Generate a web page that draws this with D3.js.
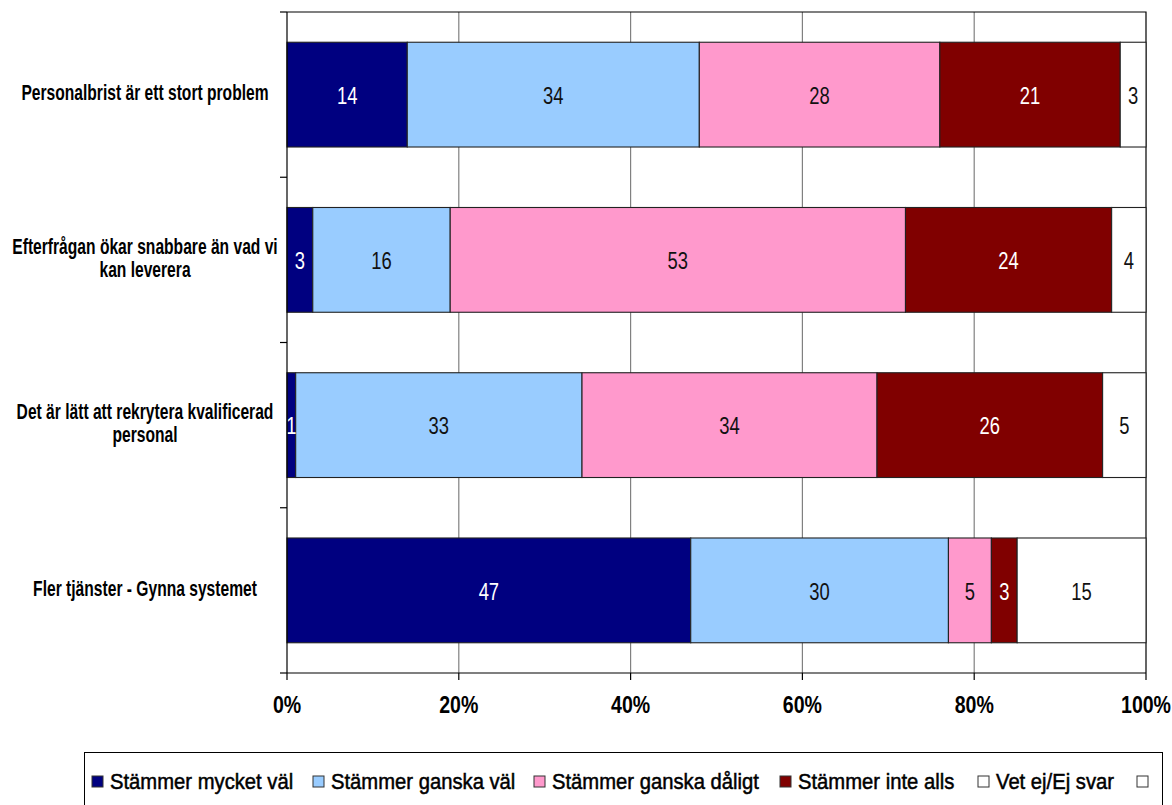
<!DOCTYPE html>
<html>
<head>
<meta charset="utf-8">
<script src="https://cdn.jsdelivr.net/npm/d3@7"></script>
<style>
  html, body { margin: 0; padding: 0; background: #fff; }
  svg { display: block; }
  text { font-family: "Liberation Sans", Arial, sans-serif; }
</style>
</head>
<body>
<svg id="chart" width="1172" height="805"></svg>
<script>
// Survey statements (top to bottom) and response shares per answer
const categories = [
  "Personalbrist är ett stort problem",
  "Efterfrågan ökar snabbare än vad vi kan leverera",
  "Det är lätt att rekrytera kvalificerad personal",
  "Fler tjänster - Gynna systemet"
];
const categoryLines = [
  ["Personalbrist är ett stort problem"],
  ["Efterfrågan ökar snabbare än vad vi", "kan leverera"],
  ["Det är lätt att rekrytera kvalificerad", "personal"],
  ["Fler tjänster - Gynna systemet"]
];
const seriesNames = [
  "Stämmer mycket väl",
  "Stämmer ganska väl",
  "Stämmer ganska dåligt",
  "Stämmer inte alls",
  "Vet ej/Ej svar"
];
const mycketVal   = [14, 3, 1, 47];
const ganskaVal   = [34, 16, 33, 30];
const ganskaDalig = [28, 53, 34, 5];
const inteAlls    = [21, 24, 26, 3];
const vetEj       = [3, 4, 5, 15];
const seriesColors = ["#000080", "#99CCFF", "#FF99CC", "#800000", "#FFFFFF"];
const labelColors  = ["#ffffff", "#111111", "#111111", "#ffffff", "#111111"];
const xTicks = [0, 0.2, 0.4, 0.6, 0.8, 1.0];
const xTickLabels = ["0%", "20%", "40%", "60%", "80%", "100%"];

const seriesValues = [mycketVal, ganskaVal, ganskaDalig, inteAlls, vetEj];
const rows = categories.map((c, i) => {
  const r = { category: c };
  seriesNames.forEach((s, j) => { r[s] = seriesValues[j][i]; });
  return r;
});

const svg = d3.select("#chart");
const plot = { left: 287, right: 1146, top: 12, bottom: 673 };

const x = d3.scaleLinear().domain([0, 1]).range([plot.left, plot.right]);
const y = d3.scaleBand().domain(categories).range([plot.top, plot.bottom])
  .paddingInner(0.366).paddingOuter(0.183);

// condensed text helper
function ctext(parent, tx, ty, str, opts) {
  const g = parent.append("g").attr("transform", `translate(${tx},${ty})`);
  const t = g.append("text")
    .attr("transform", `scale(${opts.sx || 1},1)`)
    .attr("text-anchor", opts.anchor || "middle")
    .attr("dominant-baseline", "central")
    .style("font-size", opts.size + "px")
    .style("font-weight", opts.weight || "normal")
    .attr("fill", opts.fill || "#000")
    .text(str);
  if (opts.thick) {
    t.attr("stroke", opts.fill || "#000").attr("stroke-width", opts.thick);
  }
  return t;
}

// gridlines
svg.append("g").selectAll("line")
  .data(xTicks.slice(1, -1))
  .join("line")
  .attr("x1", d => x(d)).attr("x2", d => x(d))
  .attr("y1", plot.top).attr("y2", plot.bottom)
  .attr("stroke", "#808080").attr("stroke-width", 1.2);

// plot border (top and right)
svg.append("path")
  .attr("d", `M${plot.left},${plot.top}H${plot.right}V${plot.bottom}`)
  .attr("fill", "none").attr("stroke", "#000").attr("stroke-width", 1.2);

// stacked, normalised to 100%
const stack = d3.stack().keys(seriesNames).offset(d3.stackOffsetExpand);
const stacked = stack(rows);

const layers = svg.append("g").selectAll("g")
  .data(stacked)
  .join("g")
  .attr("fill", (d, i) => seriesColors[i]);

layers.selectAll("rect")
  .data(d => d.map(p => ({ p, key: d.key })))
  .join("rect")
  .attr("x", d => x(d.p[0]))
  .attr("width", d => x(d.p[1]) - x(d.p[0]))
  .attr("y", d => y(d.p.data.category))
  .attr("height", y.bandwidth())
  .attr("stroke", "#222").attr("stroke-width", 1.1);

// value labels
const labelG = svg.append("g");
stacked.forEach((layer, si) => {
  layer.forEach(p => {
    const v = p.data[layer.key];
    const cx = (x(p[0]) + x(p[1])) / 2;
    const cy = y(p.data.category) + y.bandwidth() / 2;
    ctext(labelG, cx, cy + 1, v, { size: 23, sx: 0.8, fill: labelColors[si] });
  });
});

// axes
const axisG = svg.append("g").attr("stroke", "#000").attr("stroke-width", 1.2);
axisG.append("line").attr("x1", plot.left).attr("x2", plot.left)
  .attr("y1", plot.top).attr("y2", plot.bottom);
axisG.append("line").attr("x1", plot.left).attr("x2", plot.right)
  .attr("y1", plot.bottom).attr("y2", plot.bottom);
// category boundary ticks
const bounds = d3.range(categories.length + 1).map(i => plot.top + i * y.step());
axisG.selectAll(".yt").data(bounds).join("line")
  .attr("x1", plot.left - 7).attr("x2", plot.left)
  .attr("y1", d => d).attr("y2", d => d);
// percent ticks
axisG.selectAll(".xt").data(xTicks).join("line")
  .attr("x1", d => x(d)).attr("x2", d => x(d))
  .attr("y1", plot.bottom).attr("y2", plot.bottom + 7);

xTicks.forEach((t, i) => {
  ctext(svg, x(t), 705, xTickLabels[i], { size: 23, sx: 0.85, weight: "bold" });
});

// category labels
categoryLines.forEach((lines, i) => {
  const cy = y(categories[i]) + y.bandwidth() / 2;
  const lh = 23;
  const cx = 145;
  lines.forEach((ln, k) => {
    const ly = cy + (k - (lines.length - 1) / 2) * lh - 2;
    ctext(svg, cx, ly, ln, { size: 22, sx: 0.71, weight: "bold" });
  });
});

// legend
const lg = svg.append("g");
lg.append("rect").attr("x", 84.5).attr("y", 752.5).attr("width", 1078).attr("height", 70)
  .attr("fill", "#fff").attr("stroke", "#000").attr("stroke-width", 1);
const legendX = [92, 313, 534, 780, 978];
seriesNames.forEach((s, i) => {
  lg.append("rect").attr("x", legendX[i]).attr("y", 776).attr("width", 11).attr("height", 11)
    .attr("fill", seriesColors[i]).attr("stroke", "#333").attr("stroke-width", 1);
  ctext(lg, legendX[i] + 18, 781, s, { size: 22, sx: 0.92, anchor: "start", thick: 0.5 });
});
// trailing empty key
lg.append("rect").attr("x", 1137).attr("y", 776).attr("width", 11).attr("height", 11)
  .attr("fill", "#fff").attr("stroke", "#333").attr("stroke-width", 1);
</script>
</body>
</html>
